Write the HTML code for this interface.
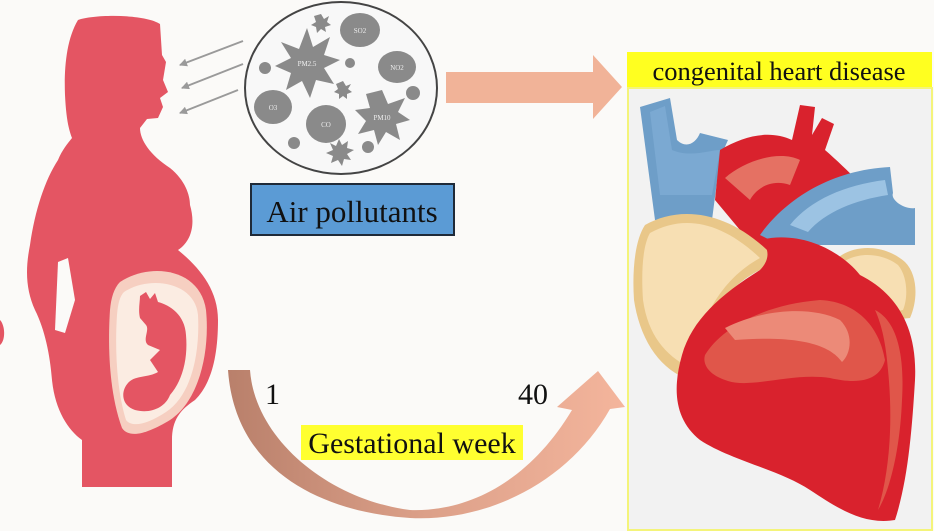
<!DOCTYPE html>
<html><head><meta charset="utf-8"><style>
html,body{margin:0;padding:0;background:#fbfaf8;}
svg{display:block}
</style></head><body>
<svg width="934" height="531" viewBox="0 0 934 531" xmlns="http://www.w3.org/2000/svg">
<defs>
<linearGradient id="cg" x1="0" y1="0" x2="1" y2="0">
<stop offset="0" stop-color="#b9806b"/><stop offset="0.5" stop-color="#dca089"/><stop offset="1" stop-color="#f4b59c"/>
</linearGradient>
<marker id="ga" markerWidth="8" markerHeight="8" refX="7" refY="4" orient="auto" markerUnits="userSpaceOnUse"><path d="M0,0 L8,4 L0,8 Z" fill="#9a9a9a"/></marker>
</defs>
<rect width="934" height="531" fill="#fbfaf8"/>

<!-- woman silhouette -->
<path fill="#e45563" d="M78,20 C95,14 145,14 160,24 L162,55 L166,62 L163,80 L168,92 L160,98 L163,107 L158,118 L147,119 L140,128 C140,140 150,155 170,168 C185,180 190,195 190,205 C195,222 193,240 178,250 C200,268 218,290 218,320 C218,360 210,385 195,400 C180,410 172,420 172,440 L172,487 L82,487 L82,440 C68,430 55,410 52,380 C50,355 45,330 35,310 C26,290 25,270 30,245 C35,210 45,180 58,160 C62,150 68,143 72,138 C68,128 66,115 65,95 C64,70 66,40 78,20 Z"/>
<path fill="#fbfaf8" d="M58,262 L68,258 L75,300 L65,333 L55,330 Z"/>
<path fill="#e45563" d="M0,320 C5,325 6,340 0,345 Z"/>
<!-- womb -->
<path fill="#f6cfc1" d="M120,282 C150,262 200,268 206,310 C210,350 200,400 170,420 C150,432 130,440 122,428 C108,390 108,340 110,310 C111,298 114,288 120,282 Z"/>
<path fill="#fbece2" d="M124,292 C150,275 195,282 198,315 C200,352 192,395 166,412 C148,424 132,428 126,420 C116,388 115,345 117,315 C118,303 120,296 124,292 Z"/>
<path fill="#e45563" d="M140,296 L146,292 L150,299 L155,293 L158,302 C170,305 185,315 186,335 C188,358 183,380 170,395 C165,408 150,414 135,410 C122,406 120,392 128,383 C135,375 148,378 158,372 L150,360 L160,350 L148,345 C142,340 150,330 146,325 L140,318 C138,310 140,302 140,296 Z"/>

<!-- grey arrows -->
<g stroke="#9a9a9a" stroke-width="2" marker-end="url(#ga)">
<line x1="243" y1="41" x2="180" y2="65"/>
<line x1="243" y1="64" x2="182" y2="88"/>
<line x1="238" y1="90" x2="180" y2="113"/>
</g>

<!-- pollutant circle -->
<ellipse cx="341" cy="88" rx="96" ry="86" fill="#f8f8f8" stroke="#444" stroke-width="2"/>
<g fill="#8a8a8a">
<ellipse cx="360" cy="30" rx="20" ry="17"/>
<ellipse cx="397" cy="67" rx="19" ry="16"/>
<ellipse cx="273" cy="107" rx="19" ry="17"/>
<ellipse cx="326" cy="124" rx="20" ry="19"/>
<circle cx="265" cy="68" r="6"/><circle cx="350" cy="63" r="5"/><circle cx="413" cy="93" r="7"/><circle cx="294" cy="143" r="6"/><circle cx="368" cy="147" r="6"/>
<path d="M307,28 L313,47 L330,37 L324,55 L340,60 L324,68 L334,84 L316,80 L310,98 L302,81 L286,90 L291,73 L275,66 L291,58 L281,42 L299,49 Z"/>
<path d="M382,90 L388,104 L405,98 L398,112 L410,120 L396,124 L400,140 L386,132 L378,145 L374,130 L358,134 L366,121 L355,110 L370,108 L366,94 Z"/>
<path d="M321,14 L324,19 L329,16 L327,22 L331,25 L325,27 L326,32 L321,29 L317,33 L316,27 L311,25 L316,22 L314,16 Z"/>
<path d="M343,81 L346,86 L351,84 L348,89 L352,92 L347,94 L347,99 L343,96 L339,99 L339,94 L334,92 L338,89 L336,84 Z"/>
<path d="M339,139 L342,145 L348,141 L347,148 L354,150 L347,154 L351,160 L344,159 L342,166 L338,160 L331,163 L333,156 L326,153 L333,150 L330,143 L336,146 Z"/>
</g>
<g fill="#eee" font-family="Liberation Serif,serif" font-size="7" text-anchor="middle">
<text x="360" y="33">SO2</text><text x="397" y="70">NO2</text><text x="273" y="110">O3</text><text x="326" y="127">CO</text><text x="307" y="66">PM2.5</text><text x="382" y="120">PM10</text>
</g>

<!-- Air pollutants box -->
<rect x="251" y="184" width="203" height="51" fill="#5b9bd5" stroke="#1f2a38" stroke-width="2"/>
<text x="352" y="222" text-anchor="middle" font-family="Liberation Serif,serif" font-size="31" fill="#111">Air pollutants</text>

<!-- top arrow -->
<path d="M446,72 L593,72 L593,55 L622,87 L593,119 L593,103 L446,103 Z" fill="#f1b398"/>

<!-- heart panel -->
<rect x="627" y="52" width="305" height="36" fill="#ffff20"/>
<text x="779" y="80" text-anchor="middle" font-family="Liberation Serif,serif" font-size="26.5" fill="#111">congenital heart disease</text>
<rect x="628" y="88" width="304" height="442" fill="#f2f2f2" stroke="#f4f47a" stroke-width="2"/>

<!-- heart -->
<path fill="#6e9ec8" d="M640,107 L670,98 L677,140 C685,148 695,145 700,133 L728,140 L720,158 L712,220 L655,220 Z"/>
<path fill="#87b4dc" d="M650,112 L665,106 L672,150 C690,158 710,150 720,150 L712,195 L660,195 Z" opacity="0.5"/>
<!-- aorta -->
<path fill="#d9222d" d="M720,150 C745,135 770,130 792,140 L800,105 L815,107 L812,135 L822,118 L834,124 L825,150 C848,170 872,195 885,210 L770,260 L740,230 L715,200 Z"/>
<path fill="#e57163" d="M725,178 C745,160 780,150 800,160 L790,185 C770,178 755,190 750,200 Z"/>
<!-- pulmonary artery blue -->
<path fill="#6e9ec8" d="M760,235 C785,200 830,170 890,167 L893,193 C890,200 905,210 915,208 L915,245 L842,245 L780,245 Z"/>
<path fill="#9cc3e3" d="M790,225 C810,200 845,185 885,180 L888,195 C855,200 825,212 808,232 Z"/>
<!-- left atrium beige -->
<path fill="#e9c789" d="M645,225 C680,205 730,210 775,258 L760,270 C720,290 700,330 690,380 C660,370 640,340 634,300 C632,270 635,240 645,225 Z"/>
<path fill="#f7dfb3" d="M650,233 C682,215 720,220 760,258 C720,280 700,320 690,368 C665,355 648,335 643,300 C641,270 643,245 650,233 Z"/>
<!-- right atrium beige -->
<path fill="#e9c789" d="M828,270 C840,245 880,240 905,262 C918,275 918,300 910,318 L890,320 C880,295 860,285 828,280 Z"/>
<path fill="#f7dfb3" d="M835,270 C848,252 878,250 898,265 C908,277 908,298 903,310 L892,312 C882,292 862,282 835,276 Z"/>
<!-- ventricle -->
<path fill="#d9222d" d="M760,240 C800,230 840,250 860,275 C890,290 918,320 915,380 C912,430 908,480 895,520 C865,525 840,510 810,490 C780,470 730,460 700,440 C675,420 672,390 682,355 C692,320 720,295 760,270 C770,260 770,248 760,240 Z"/>
<path fill="#e0564a" d="M705,355 C720,330 760,305 820,300 C860,302 880,330 885,360 C880,380 860,385 830,378 C790,372 750,390 725,380 C710,375 702,365 705,355 Z"/>
<path fill="#ec8a78" d="M725,328 C760,310 810,305 840,320 C855,335 850,355 842,362 C830,345 800,335 735,340 Z"/>
<path fill="#e0564a" d="M875,310 C895,320 905,350 902,400 C900,450 890,490 878,510 C890,470 893,420 888,370 C886,345 882,325 875,310 Z"/>

<!-- curved arrow -->
<path fill="url(#cg)" d="M228,370 L250,370 C255,440 330,500 410,510 C470,512 530,480 572,410 L557,407 L598,371 L625,407 L610,409 C570,480 490,522 410,518 C320,512 235,470 228,370 Z"/>
<text x="265" y="404" font-family="Liberation Serif,serif" font-size="30" fill="#111">1</text>
<text x="518" y="404" font-family="Liberation Serif,serif" font-size="30" fill="#111">40</text>
<rect x="301" y="425" width="222" height="35" fill="#ffff30"/>
<text x="412" y="453" text-anchor="middle" font-family="Liberation Serif,serif" font-size="30" fill="#111">Gestational week</text>
</svg>
</body></html>
